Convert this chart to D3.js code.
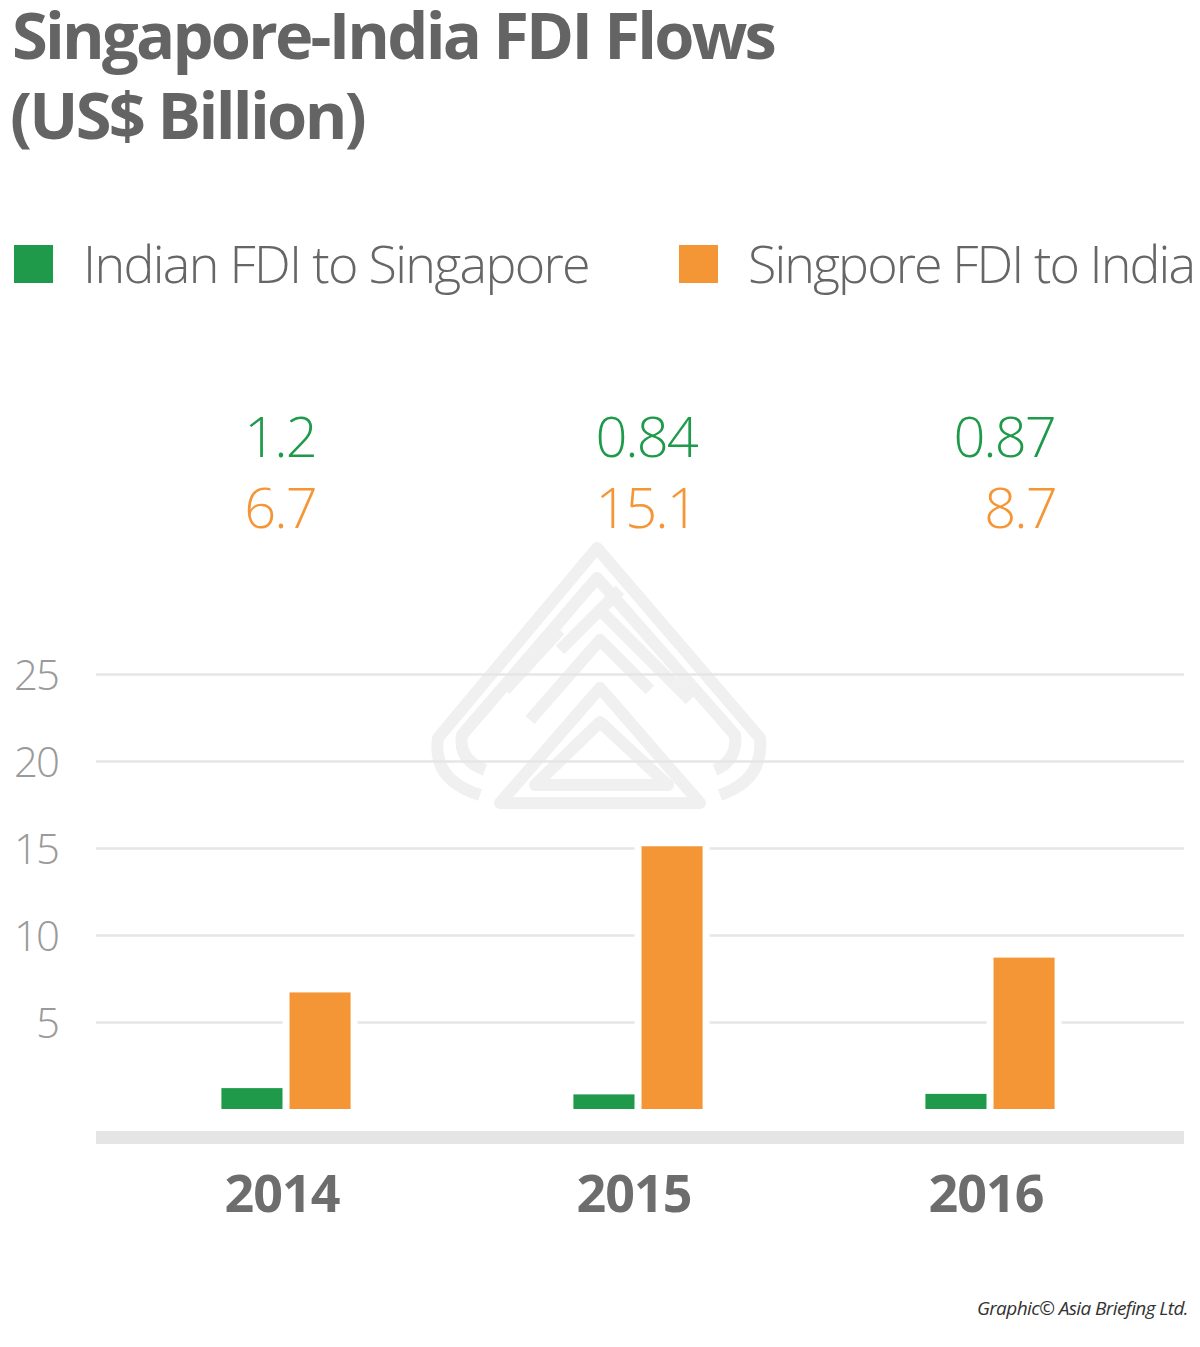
<!DOCTYPE html>
<html>
<head>
    <title>Singapore-India FDI Flows</title>
    <script src="https://d3js.org/d3.v7.min.js"></script>
    <style>
        body { margin: 0; background: #fff; }
        svg { display: block; }
    </style>
</head>
<body>
<div id="chart"></div>
<script>
    var years = ["2014", "2015", "2016"];
    var indianToSingapore = [1.2, 0.84, 0.87];
    var singaporeToIndia = [6.7, 15.1, 8.7];
    var valueLabelsIndian = ["1.2", "0.84", "0.87"];
    var valueLabelsSingapore = ["6.7", "15.1", "8.7"];
    var yTicks = [5, 10, 15, 20, 25];
    var seriesNames = ["Indian FDI to Singapore", "Singpore FDI to India"];
    var seriesColors = ["#1e9a4a", "#f59636"];

    var W = 1200, H = 1347;
    var plotLeft = 96, plotRight = 1184;

    var svg = d3.select("#chart")
        .append("svg")
        .attr("width", W)
        .attr("height", H);

    // tighten letter spacing so a text fits a width (the original font is narrow)
    function fitWidth(sel, w) {
        sel.each(function() {
            var len = this.getComputedTextLength();
            var n = this.textContent.length;
            if (len > w && n > 1) {
                d3.select(this).style("letter-spacing", ((w - len) / n) + "px");
            }
        });
    }

    // Title
    var title = svg.append("g")
        .style("font-family", "'Open Sans', sans-serif")
        .style("font-weight", 700)
        .style("font-size", "65px")
        .attr("fill", "#646464");
    title.append("text").attr("x", 12).attr("y", 59).text("Singapore-India FDI Flows").call(fitWidth, 762);
    title.append("text").attr("x", 10).attr("y", 139).text("(US$ Billion)").call(fitWidth, 354);

    // Legend
    var legendX = [14, 679];
    var legend = svg.selectAll(".legend")
        .data(seriesNames)
        .enter().append("g")
        .attr("class", "legend")
        .attr("transform", function(d, i) { return "translate(" + legendX[i] + ",245)"; });

    legend.append("rect")
        .attr("width", 39)
        .attr("height", 38)
        .attr("fill", function(d, i) { return seriesColors[i]; });

    legend.append("text")
        .attr("x", 69)
        .attr("y", 38)
        .style("font-family", "'Open Sans', sans-serif")
        .style("font-weight", 300)
        .style("font-size", "52px")
        .attr("fill", "#666")
        .text(function(d) { return d; })
        .each(function(d, i) {
            d3.select(this).call(fitWidth, i == 0 ? 506 : 446);
        });

    // Scales
    var x0 = d3.scaleBand()
        .domain(years)
        .range([110, 1166])
        .paddingInner(0.633)
        .paddingOuter(0.3165);

    var x1 = d3.scaleBand()
        .domain([0, 1])
        .range([0, x0.bandwidth()])
        .paddingInner(0.103);

    var y = d3.scaleLinear()
        .domain([0, 25])
        .range([1109, 674]);

    // Watermark logo (faint)
    var wm = svg.append("g")
        .attr("fill", "none")
        .attr("stroke", "#f0f0f0")
        .attr("stroke-width", 12)
        .attr("stroke-linejoin", "round");
    wm.append("path").attr("d", "M480 795 Q432 780 438 738 L597 548 L760 738 Q764 780 720 795");
    wm.append("path").attr("d", "M485 770 Q458 760 462 735 L597 578 L735 735 Q738 760 715 770");
    wm.append("path").attr("d", "M600 688 L500 803 L700 803 Z");
    wm.append("path").attr("d", "M600 722 L535 785 L668 785 Z");
    wm.append("path").attr("d", "M530 720 L600 640 L650 690 M560 650 L620 590 M600 610 L690 700 M505 690 L560 630");

    // Gridlines + y labels
    var yAxis = svg.append("g")
        .attr("transform", "translate(" + plotLeft + ",0)")
        .call(d3.axisLeft(y)
            .tickValues(yTicks)
            .tickSize(-(plotRight - plotLeft))
            .tickPadding(38));

    yAxis.select(".domain").remove();
    yAxis.selectAll(".tick line")
        .attr("stroke", "#e6e6e6")
        .attr("stroke-width", 2.5);
    yAxis.selectAll(".tick text")
        .attr("fill", "#9a9a9a")
        .attr("dy", "0.36em")
        .style("font-family", "'Open Sans', sans-serif")
        .style("font-weight", 300)
        .style("font-size", "42px")
        .style("letter-spacing", "-2px");

    // Bars
    var barData = [];
    years.forEach(function(yr, i) {
        barData.push({ year: yr, s: 0, value: indianToSingapore[i] });
        barData.push({ year: yr, s: 1, value: singaporeToIndia[i] });
    });

    // white halo around bars cuts the gridlines
    svg.append("g").selectAll("rect")
        .data(barData)
        .enter().append("rect")
        .attr("x", function(d) { return x0(d.year) + x1(d.s) - 7; })
        .attr("y", function(d) { return y(d.value) - 7; })
        .attr("width", x1.bandwidth() + 14)
        .attr("height", function(d) { return y(0) - y(d.value) + 7; })
        .attr("fill", "#fff");

    svg.append("g").selectAll("rect")
        .data(barData)
        .enter().append("rect")
        .attr("x", function(d) { return x0(d.year) + x1(d.s); })
        .attr("y", function(d) { return y(d.value); })
        .attr("width", x1.bandwidth())
        .attr("height", function(d) { return y(0) - y(d.value); })
        .attr("fill", function(d) { return seriesColors[d.s]; });

    // Thick baseline
    svg.append("rect")
        .attr("x", plotLeft)
        .attr("y", y(0) + 22)
        .attr("width", plotRight - plotLeft)
        .attr("height", 13)
        .attr("fill", "#e5e5e5");

    // Year labels
    svg.append("g").selectAll("text")
        .data(years)
        .enter().append("text")
        .attr("x", function(d) { return x0(d) + x0.bandwidth() / 2 - 4; })
        .attr("y", 1212)
        .attr("text-anchor", "middle")
        .attr("fill", "#6d6d6d")
        .style("font-family", "'Open Sans', sans-serif")
        .style("font-weight", 700)
        .style("font-size", "52px")
        .style("letter-spacing", "-1px")
        .text(function(d) { return d; });

    // Value labels above the chart
    var labelShift = [-6, 8, 20];
    var labels = svg.append("g")
        .style("font-family", "'Open Sans', sans-serif")
        .style("font-weight", 300)
        .style("font-size", "56px")
        .style("letter-spacing", "-2px")
        .attr("text-anchor", "middle");

    labels.selectAll(".v0")
        .data(years)
        .enter().append("text")
        .attr("class", "v0")
        .attr("x", function(d, i) { return x0(d) + x0.bandwidth() / 2 + labelShift[i] - (i == 2 ? 6 : 0); })
        .attr("y", 457)
        .attr("fill", seriesColors[0])
        .text(function(d, i) { return valueLabelsIndian[i]; });

    labels.selectAll(".v1")
        .data(years)
        .enter().append("text")
        .attr("class", "v1")
        .attr("x", function(d, i) { return x0(d) + x0.bandwidth() / 2 + labelShift[i] + (i == 2 ? 10 : 0); })
        .attr("y", 528)
        .attr("fill", seriesColors[1])
        .text(function(d, i) { return valueLabelsSingapore[i]; });

    // Credit
    svg.append("text")
        .attr("x", 1188)
        .attr("y", 1315)
        .attr("text-anchor", "end")
        .attr("fill", "#333")
        .style("font-family", "'Open Sans', sans-serif")
        .style("font-style", "italic")
        .style("font-size", "19px")
        .style("letter-spacing", "-0.6px")
        .text("Graphic© Asia Briefing Ltd.");
</script>
</body>
</html>
